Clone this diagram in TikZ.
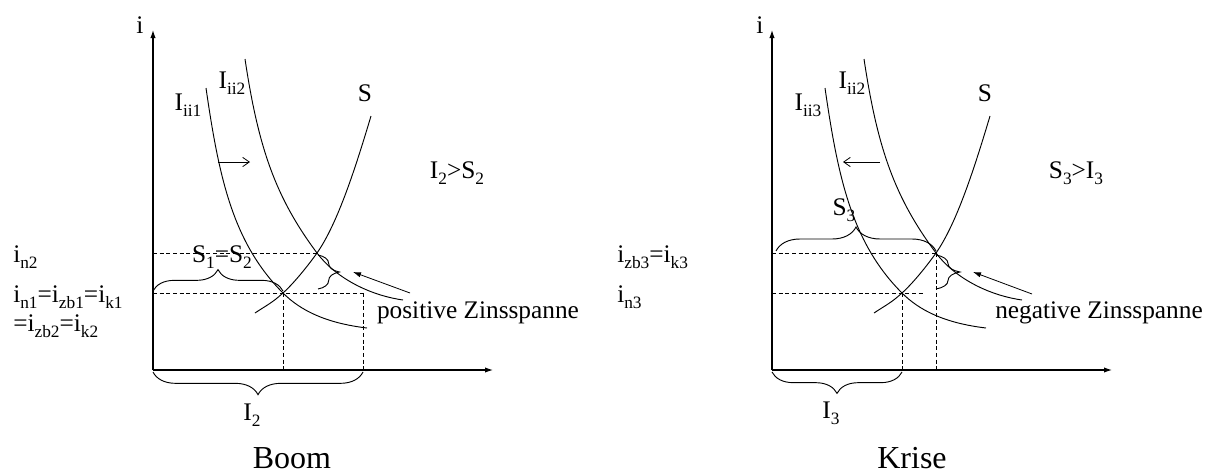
\documentclass[tikz,border=0pt]{standalone}
\usepackage{fontspec}
\setmainfont{Liberation Serif}
\usetikzlibrary{arrows.meta,decorations.pathreplacing}
\newcommand{\lsub}[1]{\raisebox{-0.27em}{\fontsize{13}{13}\selectfont #1}}
\newcommand{\drawcurves}{%
 \draw[curve] (206,-88) .. controls (219,-178) and (233,-243) .. (283,-293)
                        .. controls (300,-310) and (325,-323) .. (367,-328);
 \draw[curve] (245,-59) .. controls (258.5,-149) and (276,-198) .. (317,-253)
                        .. controls (335,-277) and (368,-295) .. (403,-300);
 \draw[curve] (255,-313) .. controls (267,-305) and (272,-303) .. (283,-293)
                        .. controls (294,-283) and (307,-267) .. (317,-253)
                        .. controls (338,-223) and (356,-166) .. (371,-116);
}
\begin{document}
\begin{tikzpicture}[x=0.75pt,y=0.75pt,
 lbl/.style={font=\fontsize{19}{22}\selectfont, inner sep=0pt, anchor=base},
 ttl/.style={font=\fontsize{24}{28}\selectfont, inner sep=0pt, anchor=base},
 curve/.style={line width=0.7pt},
 axis/.style={line width=0.8pt, -{Latex[length=6pt,width=4pt]}},
 guide/.style={line width=0.6pt, dash pattern=on 3pt off 2pt},
 brc/.style={line width=0.7pt, decorate, decoration={brace, amplitude=#1}},
 moveArrow/.style={line width=0.6pt, -{Straight Barb[length=5pt,width=7pt]}},
 pointer/.style={line width=0.6pt, -{Latex[length=6pt,width=4pt]}},
]
\useasboundingbox (0,0) rectangle (1216,-475);

% ---------- axes ----------
\coordinate (O1) at (153,-370); \coordinate (Y1) at (153,-30); \coordinate (X1) at (493,-370);
\coordinate (O2) at (772,-370); \coordinate (Y2) at (772,-30); \coordinate (X2) at (1112,-370);
\draw[axis] (O1) -- (Y1); \draw[axis] (O1) -- (X1);
\draw[axis] (O2) -- (Y2); \draw[axis] (O2) -- (X2);

% ---------- curves (same in both panels, shifted by 619 px) ----------
\drawcurves
\begin{scope}[xshift=464.25pt]
\drawcurves
\end{scope}

% ---------- left panel: Boom ----------
\coordinate (E1) at (283,-293); \coordinate (E2) at (317,-253);
\draw[guide] (153,-253) -- (E2);
\draw[guide] (153,-293) -- (363,-293);
\draw[guide] (E1) -- (283,-370);
\draw[guide] (363,-293) -- (363,-370);

\draw[brc=16pt] (153,-291) -- (283,-291);
\draw[brc=16pt] (318,-255) -- (318,-289);
\draw[brc=17pt] (363,-372) -- (153,-372);

\coordinate (la1) at (218,-162); \coordinate (la2) at (250,-162);
\draw[moveArrow] (la1) -- (la2);
\coordinate (lp1) at (410,-293); \coordinate (lp2) at (353,-272);
\draw[pointer] (lp1) -- (lp2);

\node[lbl] (iax1) at (140,-33) {i};
\node[lbl] (lIii1) at (188,-110) {I\lsub{ii1}};
\node[lbl] (lIii2) at (232,-88) {I\lsub{ii2}};
\node[lbl] (lS) at (365,-101) {S};
\node[lbl] (lcmp) at (457,-178) {I\lsub{2}>S\lsub{2}};
\node[lbl] (lpos) at (478,-318) {positive Zinsspanne};
\node[lbl] (lS12) at (222,-262) {S\lsub{1}=S\lsub{2}};
\node[lbl] (lI2) at (252,-420) {I\lsub{2}};
\node[ttl] (boom) at (292,-468) {Boom};
\node[lbl, anchor=base west] (in2) at (13,-262) {i\lsub{n2}};
\node[lbl, anchor=base west] (in1) at (13,-302) {i\lsub{n1}=i\lsub{zb1}=i\lsub{k1}};
\node[lbl, anchor=base west] (izb2) at (13,-331) {=i\lsub{zb2}=i\lsub{k2}};

% ---------- right panel: Krise ----------
\coordinate (F1) at (902,-293); \coordinate (F2) at (936,-253);
\draw[guide] (772,-253) -- (F2);
\draw[guide] (772,-293) -- (923,-293);
\draw[guide] (F1) -- (902,-370);
\draw[guide] (F2) -- (936,-370);

\draw[brc=18pt] (776,-251) -- (936,-251);
\draw[brc=18pt] (936,-255) -- (936,-289);
\draw[brc=16pt] (902,-372) -- (772,-372);

\coordinate (ra1) at (880,-162); \coordinate (ra2) at (843,-162);
\draw[moveArrow] (ra1) -- (ra2);
\coordinate (rp1) at (1032,-294); \coordinate (rp2) at (973,-272);
\draw[pointer] (rp1) -- (rp2);

\node[lbl] (iax2) at (760,-33) {i};
\node[lbl] (rIii3) at (808,-110) {I\lsub{ii3}};
\node[lbl] (rIii2) at (852,-88) {I\lsub{ii2}};
\node[lbl] (rS) at (985,-101) {S};
\node[lbl] (rcmp) at (1076,-178) {S\lsub{3}>I\lsub{3}};
\node[lbl] (rneg) at (1099,-318) {negative Zinsspanne};
\node[lbl] (rS3) at (844,-215) {S\lsub{3}};
\node[lbl] (rI3) at (831,-418) {I\lsub{3}};
\node[ttl] (krise) at (912,-468) {Krise};
\node[lbl, anchor=base west] (izb3) at (617,-262) {i\lsub{zb3}=i\lsub{k3}};
\node[lbl, anchor=base west] (in3) at (617,-302) {i\lsub{n3}};
\end{tikzpicture}
\end{document}
